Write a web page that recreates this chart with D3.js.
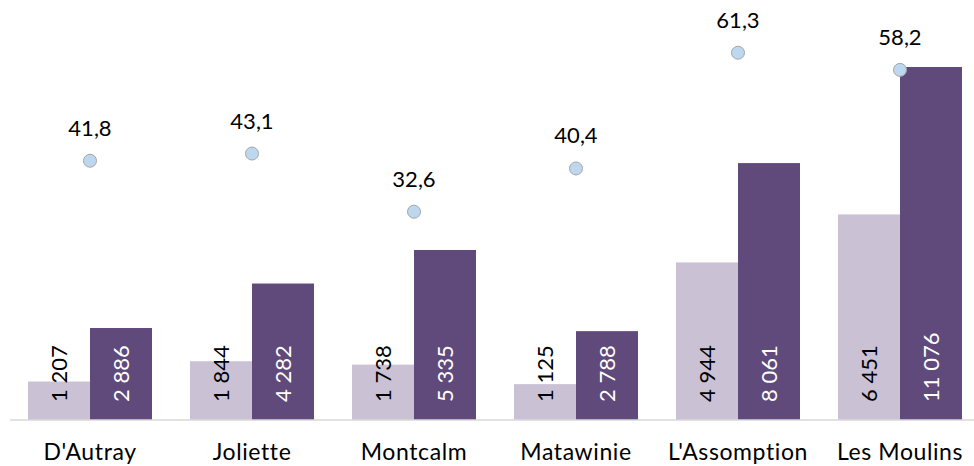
<!DOCTYPE html>
<html>
<head>
<meta charset="utf-8">
<script src="https://cdn.jsdelivr.net/npm/d3@7"></script>
<style>
  body { margin: 0; background: #fff; }
  svg { display: block; font-family: Lato, "Open Sans", sans-serif; }
</style>
</head>
<body>
<svg id="chart" width="974" height="466"></svg>
<script>
// data
const categories = ["D'Autray", "Joliette", "Montcalm", "Matawinie", "L'Assomption", "Les Moulins"];
const lightValues = [1207, 1844, 1738, 1125, 4944, 6451];
const darkValues = [2886, 4282, 5335, 2788, 8061, 11076];
const rates = [41.8, 43.1, 32.6, 40.4, 61.3, 58.2];

const fmtInt = d3.formatLocale({ decimal: ",", thousands: "\u00a0", grouping: [3], currency: ["", ""] }).format(",d");
const fmtRate = d => d.toFixed(1).replace(".", ",");

const base = 420;

const svg = d3.select('#chart');

const x = d3.scaleBand()
	.domain(categories)
	.range([9, 981]);

const inner = d3.scaleBand()
	.domain(['light', 'dark'])
	.range([19, x.bandwidth() - 19]);

const y = d3.scaleLinear()
	.domain([0, 12000])
	.range([base, base - 12000 * 353 / 11076]);

// secondary axis for the rates
const y2 = d3.scaleLinear()
	.domain([-5, 70])
	.range([base, 4.5]);

const rows = categories.map((c, i) => ({ cat: c, light: lightValues[i], dark: darkValues[i], rate: rates[i] }));

const series = [
	{ key: 'light', fill: '#cac1d5', text: '#000' },
	{ key: 'dark', fill: '#604a7b', text: '#fff' }
];

// bars
series.forEach(s => {
	svg.append('g').selectAll('rect')
		.data(rows)
		.join('rect')
		.attr('x', d => x(d.cat) + inner(s.key))
		.attr('width', inner.bandwidth())
		.attr('y', d => y(d[s.key]))
		.attr('height', d => base - y(d[s.key]))
		.attr('fill', s.fill);
});

// baseline + category labels
svg.append('g')
	.attr('transform', `translate(0,${base})`)
	.call(d3.axisBottom(x).tickSize(0))
	.call(g => g.select('.domain').attr('stroke', '#d9d9d9').attr('stroke-width', 1.5).attr('d', 'M10,0H974'))
	.call(g => g.selectAll('text')
		.attr('y', 40)
		.attr('dy', null)
		.attr('font-size', 23)
		.attr('letter-spacing', 0.6)
		.attr('font-family', 'Lato, "Open Sans", sans-serif')
		.attr('fill', '#000'));

// value labels inside bars, rotated
series.forEach(s => {
	svg.append('g').selectAll('text')
		.data(rows)
		.join('text')
		.attr('transform', d => `translate(${x(d.cat) + inner(s.key) + inner.bandwidth() / 2 + 8},${base - 18}) rotate(-90)`)
		.attr('font-size', 22)
		.attr('fill', s.text)
		.text(d => fmtInt(d[s.key]));
});

// rate markers
svg.append('g').selectAll('circle')
	.data(rows)
	.join('circle')
	.attr('cx', d => x(d.cat) + x.bandwidth() / 2)
	.attr('cy', d => y2(d.rate))
	.attr('r', 6.5)
	.attr('fill', '#bdd7ee')
	.attr('stroke', '#a6a6a6')
	.attr('stroke-width', 1);

svg.append('g').selectAll('text')
	.data(rows)
	.join('text')
	.attr('x', d => x(d.cat) + x.bandwidth() / 2)
	.attr('y', d => y2(d.rate) - 25)
	.attr('text-anchor', 'middle')
	.attr('font-size', 22)
	.attr('fill', '#000')
	.text(d => fmtRate(d.rate));
</script>
</body>
</html>
